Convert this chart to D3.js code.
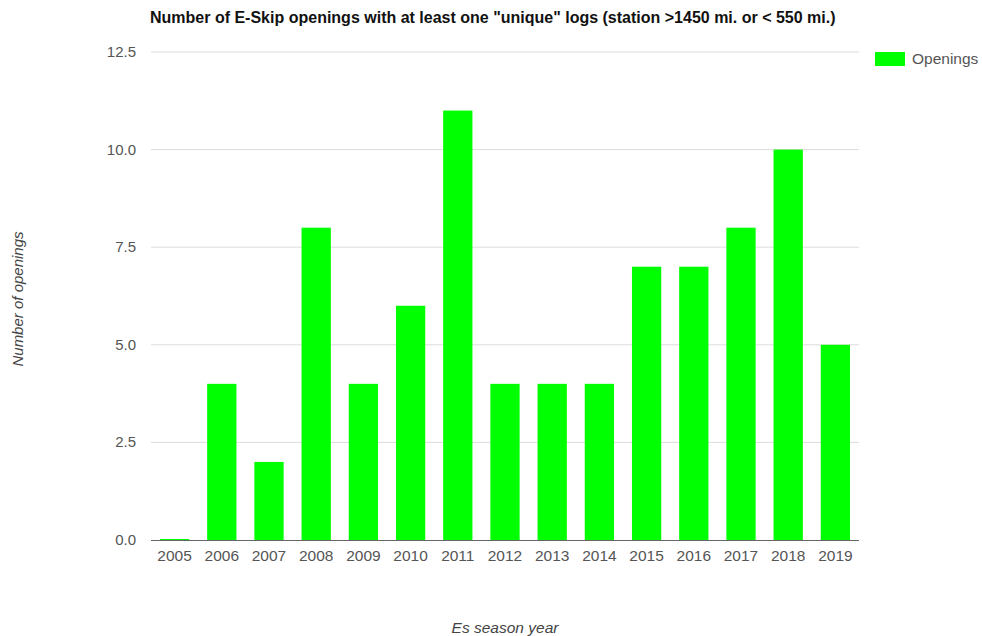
<!DOCTYPE html>
<html><head><meta charset="utf-8">
<script src="https://cdn.jsdelivr.net/npm/d3@7"></script>
<style>body{margin:0;background:#fff;}svg{display:block;font-family:"Liberation Sans",Arial,sans-serif;}</style>
</head><body><svg id="c" width="982" height="636"></svg>
<script>
const years = ["2005","2006","2007","2008","2009","2010","2011","2012","2013","2014","2015","2016","2017","2018","2019"];
const openings = [0,4,2,8,4,6,11,4,4,4,7,7,8,10,5];
const yTicks = [0,2.5,5,7.5,10,12.5];
const seriesName = "Openings";

const svg = d3.select("#c");
const L=151, R=859, T=52, B=540;
const x = d3.scaleBand().domain(years).range([L,R]).paddingInner(0.38).paddingOuter(0.19);
const y = d3.scaleLinear().domain([0,12.5]).range([B,T]);

svg.append("g").selectAll("line").data(yTicks.filter(d=>d>0)).join("line")
  .attr("x1",L).attr("x2",R).attr("y1",d=>y(d)).attr("y2",d=>y(d))
  .attr("stroke","#dcdcdc").attr("stroke-width",1);

svg.append("g").selectAll("text").data(yTicks).join("text")
  .attr("x",136).attr("y",d=>y(d)+5).attr("text-anchor","end")
  .attr("font-size",15).attr("fill","#555").text(d=>d.toFixed(1));

svg.append("g").selectAll("rect").data(years).join("rect")
  .attr("x",d=>x(d)).attr("width",x.bandwidth())
  .attr("y",(d,i)=>Math.min(y(openings[i]),B-1))
  .attr("height",(d,i)=>Math.max(B-y(openings[i]),1))
  .attr("fill","#00ff00");

svg.append("line").attr("x1",L).attr("x2",R).attr("y1",B+0.5).attr("y2",B+0.5)
  .attr("stroke","#666").attr("stroke-width",1);

svg.append("g").selectAll("text").data(years).join("text")
  .attr("x",d=>x(d)+x.bandwidth()/2).attr("y",B+21).attr("text-anchor","middle")
  .attr("font-size",15.5).attr("fill","#555").text(d=>d);

svg.append("text").attr("x",150).attr("y",23).attr("font-size",16).attr("font-weight","bold")
  .attr("fill","#111").text('Number of E-Skip openings with at least one "unique" logs (station >1450 mi. or < 550 mi.)');

svg.append("text").attr("transform","translate(23,299) rotate(-90)").attr("text-anchor","middle")
  .attr("font-size",15).attr("font-style","italic").attr("fill","#444").text("Number of openings");

svg.append("text").attr("x",505).attr("y",633).attr("text-anchor","middle")
  .attr("font-size",15.5).attr("font-style","italic").attr("fill","#444").text("Es season year");

svg.append("rect").attr("x",875).attr("y",52).attr("width",30).attr("height",14).attr("fill","#00ff00");
svg.append("text").attr("x",912).attr("y",64).attr("font-size",15.5).attr("fill","#555").text(seriesName);
</script></body></html>
